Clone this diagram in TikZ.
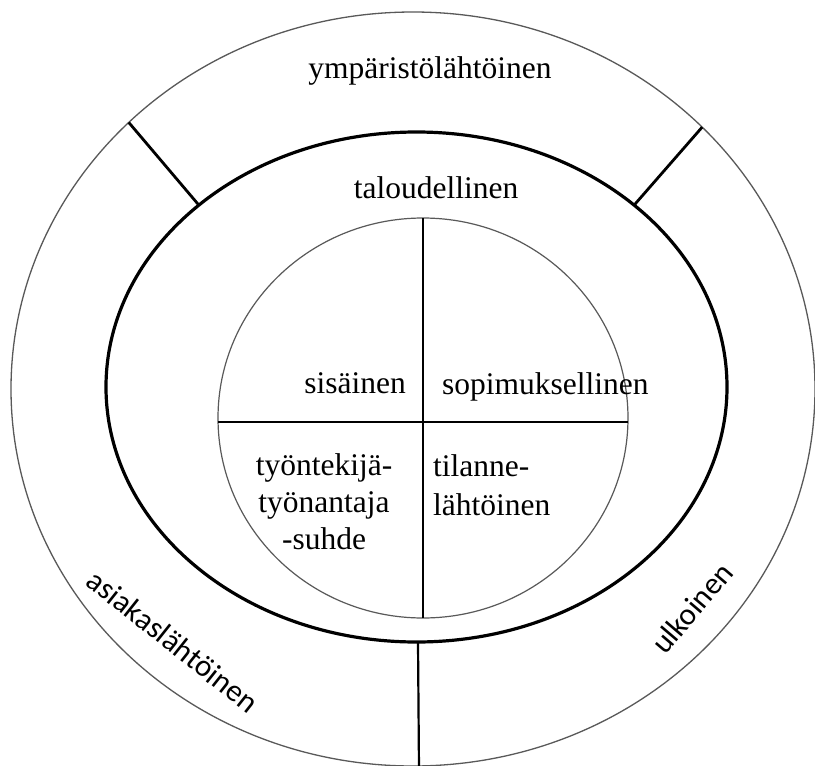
\documentclass[tikz,border=0pt]{standalone}
\usepackage{fontspec}
\setmainfont{Liberation Serif}
\newfontfamily\labelsans{Carlito}
\usetikzlibrary{calc}
\begin{document}
\begin{tikzpicture}[x=1pt,y=-1pt,
  thinring/.style={draw=black!65,line width=1.3pt},
  boldring/.style={draw=black,line width=3.2pt},
  divider/.style={draw=black,line width=2.8pt},
  crossline/.style={draw=black,line width=2pt},
  serif/.style={inner sep=0pt,font=\fontsize{31.5}{37}\selectfont},
  sans/.style={inner sep=0pt,font=\labelsans\fontsize{31}{37}\selectfont}]
  % canvas
  \fill[white] (0,0) rectangle (815,766);
  \useasboundingbox (0,0) rectangle (815,766);
  % centres of the three rings
  \coordinate (oc) at (413,389);
  \coordinate (mc) at (416.5,387);
  \coordinate (ic) at (423,418);
  % rings
  \draw[thinring] (oc) ellipse [x radius=402,y radius=377];
  \draw[boldring] (mc) ellipse [x radius=310.5,y radius=255];
  \draw[thinring,line width=1.2pt] (ic) ellipse [x radius=205,y radius=200];
  % points where the dividers meet the rings
  \coordinate (oUL) at ($(oc)+(-135:402 and 377)$);
  \coordinate (mUL) at ($(mc)+(-134.5:310.5 and 255)$);
  \coordinate (oUR) at ($(oc)+(-44:402 and 377)$);
  \coordinate (mUR) at ($(mc)+(-45.5:310.5 and 255)$);
  \coordinate (oB) at (419,770);
  \coordinate (mB) at (418,642);
  \coordinate (iT) at (423,218);
  \coordinate (iB) at (423,618);
  \coordinate (iL) at (218,422);
  \coordinate (iR) at (628,422);
  % dividers of the outer band
  \draw[divider] (oUL) -- (mUL);
  \draw[divider] (oUR) -- (mUR);
  \draw[crossline,line width=2.2pt] (mB) -- (oB);
  % quadrants of the inner circle
  \draw[crossline] (iT) -- (iB);
  \draw[crossline] (iL) -- (iR);
  % labels
  \node[serif,anchor=base] (ymp) at (430,78) {ympäristölähtöinen};
  \node[serif,anchor=base] (tal) at (436,198) {taloudellinen};
  \node[serif,anchor=base east] (sis) at (406,393) {sisäinen};
  \node[serif,anchor=base west] (sop) at (442,394) {sopimuksellinen};
  \node[serif,anchor=base] (tt1) at (324,475) {työntekijä-};
  \node[serif,anchor=base] (tt2) at (324,512) {työnantaja};
  \node[serif,anchor=base] (tt3) at (324,549) {-suhde};
  \node[serif,anchor=base west] (til1) at (433,476) {tilanne-};
  \node[serif,anchor=base west] (til2) at (433,515) {lähtöinen};
  \node[sans,rotate=-38.5] (asi) at (173,641) {asiakaslähtöinen};
  \node[sans,rotate=49.6] (ulk) at (692,608) {ulkoinen};
\end{tikzpicture}
\end{document}
